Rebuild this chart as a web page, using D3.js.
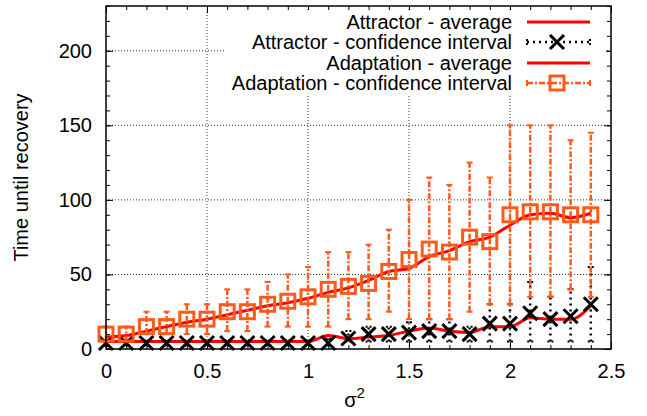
<!DOCTYPE html>
<html><head><meta charset="utf-8">
<script src="https://cdn.jsdelivr.net/npm/d3@7"></script>
<style>
body{margin:0;background:#fff;}
svg{display:block;font-family:"Liberation Sans",Arial,Helvetica,sans-serif;}
</style></head>
<body>
<svg id="chart" width="647" height="416"></svg>
<script>
// ---------- data ----------
const sigma2 = [0,0.1,0.2,0.3,0.4,0.5,0.6,0.7,0.8,0.9,1.0,1.1,1.2,1.3,1.4,1.5,1.6,1.7,1.8,1.9,2.0,2.1,2.2,2.3,2.4];
const attractorAvg = [5,5,5,5,5,5,5,5,5,5,5,9,7,8,9,12,14,12,11,15,15,21,20,20,29];
const attractorMid = [4,4,4,4,4,4,4,4,4,4,4,4,7,10,10,11,12,12,10,17,17,24,20,22,30];
const attractorLow = [2,2,2,2,2,2,2,2,2,2,2,2,5,5,5,5,5,5,5,5,5,5,5,5,5];
const attractorHigh = [6,6,6,6,6,6,6,6,6,6,6,7,12,15,15,18,20,20,15,30,30,45,35,40,55];
const adaptationAvg = [8,9,12,15,18,20,23,26,29,31,34,38,41,46,52,54,62,66,72,75,83,90,91,88,91];
const adaptationMid = [10,10,15,15,20,20,25,25,30,32,35,40,42,44,52,60,67,65,75,72,90,92,92,90,90];
const adaptationLow = [5,5,10,10,10,10,12,12,15,15,15,15,20,20,25,20,20,20,25,30,30,35,35,40,35];
const adaptationHigh = [15,15,25,25,30,30,40,40,45,50,55,65,65,70,80,100,115,110,125,115,150,150,150,140,145];
const xTicks = [0,0.5,1,1.5,2,2.5];
const yTicks = [0,50,100,150,200];
const legendLabels = ["Attractor - average","Attractor - confidence interval","Adaptation - average","Adaptation - confidence interval"];

// ---------- setup ----------
const svg = d3.select("#chart");
const L = 106, R = 611, T = 6, B = 349;
const x = d3.scaleLinear().domain([0,2.5]).range([L,R]);
const y = d3.scaleLinear().domain([0,230]).range([B,T]);
const RED = "#ff0000", ORANGE = "#ff5a1a";
const FS = 20;

// grid
const grid = svg.append("g").attr("stroke","#000").attr("stroke-width",0.8).attr("stroke-dasharray","1,2");
[0.5,1,1.5,2].forEach(v => grid.append("line").attr("x1",x(v)).attr("x2",x(v)).attr("y1",B).attr("y2",T));
[50,100,150,200].forEach(v => grid.append("line").attr("x1",L).attr("x2",R).attr("y1",y(v)).attr("y2",y(v)));

// axes
const minorX = d3.range(0,26).map(i=>i/10);
const minorY = d3.range(0,24).map(i=>i*10);
function styleAxis(g){ g.select(".domain").remove(); g.selectAll("line").attr("stroke","#000").attr("stroke-width",1); g.selectAll("text").attr("font-size",FS).attr("fill","#000").attr("font-family",'"Liberation Sans",Arial,sans-serif'); }
svg.append("g").attr("transform",`translate(0,${B})`).call(d3.axisBottom(x).tickValues(xTicks).tickSize(-7).tickPadding(15).tickFormat(d3.format("")) ).call(styleAxis);
svg.append("g").attr("transform",`translate(0,${B})`).call(d3.axisBottom(x).tickValues(minorX).tickSize(-4).tickFormat("")).call(styleAxis);
svg.append("g").attr("transform",`translate(0,${T})`).call(d3.axisTop(x).tickValues(xTicks).tickSize(-7).tickFormat("")).call(styleAxis);
svg.append("g").attr("transform",`translate(0,${T})`).call(d3.axisTop(x).tickValues(minorX).tickSize(-4).tickFormat("")).call(styleAxis);
svg.append("g").attr("transform",`translate(${L},0)`).call(d3.axisLeft(y).tickValues(yTicks).tickSize(-7).tickPadding(14)).call(styleAxis);
svg.append("g").attr("transform",`translate(${L},0)`).call(d3.axisLeft(y).tickValues(minorY).tickSize(-4).tickFormat("")).call(styleAxis);
svg.append("g").attr("transform",`translate(${R},0)`).call(d3.axisRight(y).tickValues(yTicks).tickSize(-7).tickFormat("")).call(styleAxis);
svg.append("g").attr("transform",`translate(${R},0)`).call(d3.axisRight(y).tickValues(minorY).tickSize(-4).tickFormat("")).call(styleAxis);

// axis labels
svg.append("text").attr("transform",`translate(28,${(T+B)/2}) rotate(-90)`).attr("text-anchor","middle")
  .attr("font-size",FS).text("Time until recovery");
const xl = svg.append("text").attr("x",(L+R)/2 - 4).attr("y",407).attr("text-anchor","middle").attr("font-size",FS);
xl.append("tspan").text("σ");
xl.append("tspan").attr("font-size",15).attr("dy",-9).text("2");

// ---------- data layers ----------
const plot = svg.append("g");
const line = d3.line().x((d,i)=>x(sigma2[i])).y(d=>y(d)).curve(d3.curveMonotoneX);

// attractor average
plot.append("path").datum(attractorAvg).attr("d",line).attr("fill","none").attr("stroke",RED).attr("stroke-width",3);

// attractor CI
const aci = plot.append("g");
sigma2.forEach((s,i)=>{
  aci.append("line").attr("x1",x(s)).attr("x2",x(s)).attr("y1",y(attractorLow[i])).attr("y2",y(attractorHigh[i]))
     .attr("stroke","#000").attr("stroke-width",2.5).attr("stroke-dasharray","2,4");
  [attractorLow[i],attractorHigh[i]].forEach(v=>aci.append("line").attr("x1",x(s)-3).attr("x2",x(s)+3).attr("y1",y(v)).attr("y2",y(v)).attr("stroke","#000").attr("stroke-width",2).attr("stroke-dasharray","2,2"));
});
function xMark(g,cx,cy){ const h=7; g.append("path").attr("d",`M${cx-h},${cy-h}L${cx+h},${cy+h}M${cx-h},${cy+h}L${cx+h},${cy-h}`).attr("stroke","#000").attr("stroke-width",3).attr("fill","none"); }
sigma2.forEach((s,i)=>xMark(aci,x(s),y(attractorMid[i])));

// adaptation average
plot.append("path").datum(adaptationAvg).attr("d",line).attr("fill","none").attr("stroke",RED).attr("stroke-width",3);

// adaptation CI
const dci = plot.append("g");
sigma2.forEach((s,i)=>{
  dci.append("line").attr("x1",x(s)).attr("x2",x(s)).attr("y1",y(adaptationLow[i])).attr("y2",y(adaptationHigh[i]))
     .attr("stroke",ORANGE).attr("stroke-width",2.5).attr("stroke-dasharray","6,2,2,2");
  [adaptationLow[i],adaptationHigh[i]].forEach(v=>dci.append("line").attr("x1",x(s)-3).attr("x2",x(s)+3).attr("y1",y(v)).attr("y2",y(v)).attr("stroke",ORANGE).attr("stroke-width",2));
});
function sqMark(g,cx,cy){ g.append("rect").attr("x",cx-7).attr("y",cy-7).attr("width",14).attr("height",14).attr("fill","none").attr("stroke",ORANGE).attr("stroke-width",3); }
sigma2.forEach((s,i)=>sqMark(dci,x(s),y(adaptationMid[i])));

// ---------- legend ----------
const lg = svg.append("g");
lg.append("rect").attr("x",226).attr("y",10).attr("width",380).attr("height",85).attr("fill","#fff");
const rowY = [22,42,63,83];
const sx1 = 527, sx2 = 590, sxm = 557;
legendLabels.forEach((t,i)=>{
  lg.append("text").attr("x",512).attr("y",rowY[i]).attr("dy","0.35em").attr("text-anchor","end").attr("font-size",FS).text(t);
});
lg.append("line").attr("x1",sx1).attr("x2",sx2).attr("y1",rowY[0]).attr("y2",rowY[0]).attr("stroke",RED).attr("stroke-width",3);
lg.append("line").attr("x1",sx1).attr("x2",sx2).attr("y1",rowY[1]).attr("y2",rowY[1]).attr("stroke","#000").attr("stroke-width",2.5).attr("stroke-dasharray","2,4");
[sx1,sx2].forEach(v=>lg.append("line").attr("x1",v).attr("x2",v).attr("y1",rowY[1]-3).attr("y2",rowY[1]+3).attr("stroke","#000").attr("stroke-width",2).attr("stroke-dasharray","2,2"));
xMark(lg,sxm,rowY[1]);
lg.append("line").attr("x1",sx1).attr("x2",sx2).attr("y1",rowY[2]).attr("y2",rowY[2]).attr("stroke",RED).attr("stroke-width",3);
lg.append("line").attr("x1",sx1).attr("x2",sx2).attr("y1",rowY[3]).attr("y2",rowY[3]).attr("stroke",ORANGE).attr("stroke-width",2.5).attr("stroke-dasharray","6,2,2,2");
[sx1,sx2].forEach(v=>lg.append("line").attr("x1",v).attr("x2",v).attr("y1",rowY[3]-3).attr("y2",rowY[3]+3).attr("stroke",ORANGE).attr("stroke-width",2));
sqMark(lg,sxm,rowY[3]);

// border
svg.append("rect").attr("x",L).attr("y",T).attr("width",R-L).attr("height",B-T).attr("fill","none").attr("stroke","#000").attr("stroke-width",1.5);
</script>
</body></html>
